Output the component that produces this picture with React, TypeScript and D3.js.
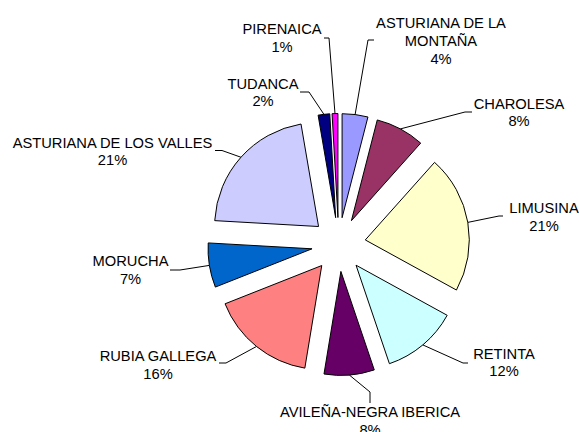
import React, { useEffect, useRef } from 'react'
import * as d3 from 'd3'

const breeds = [
  'ASTURIANA DE LA MONTAÑA',
  'CHAROLESA',
  'LIMUSINA',
  'RETINTA',
  'AVILEÑA-NEGRA IBERICA',
  'RUBIA GALLEGA',
  'MORUCHA',
  'ASTURIANA DE LOS VALLES',
  'TUDANCA',
  'PIRENAICA',
]
const shares = [4.0, 7.6, 21.4, 11.8, 7.8, 16.4, 6.9, 21.4, 1.8, 0.9]
const colours = ['#9999FF', '#993366', '#FFFFCC', '#CCFFFF', '#660066', '#FF8080', '#0066CC', '#CCCCFF', '#000080', '#FF00FF']

// where each label sits: centre x, first baseline, leader start and elbow
const labelPos = [
  { x: 441, y: 28.3, wrap: 16, from: [374, 40], elbow: [368, 40] },
  { x: 519, y: 108.5, from: [472, 112], elbow: [465, 112] },
  { x: 544, y: 213, from: [503, 216], elbow: [499, 216] },
  { x: 504, y: 358.5, from: [468, 363], elbow: [463, 363] },
  { x: 370, y: 417, from: [370, 403], elbow: [370, 392] },
  { x: 158, y: 361, from: [219, 363], elbow: [226, 363] },
  { x: 130.5, y: 266, from: [170, 270], elbow: [180, 270] },
  { x: 112.5, y: 147.5, from: [215, 150.5], elbow: [222, 150.5] },
  { x: 263, y: 88.5, from: [300, 92], elbow: [309, 92] },
  { x: 282, y: 34, from: [324, 38], elbow: [329, 38] },
]

const W = 579, H = 432
const cx = 338.7, cy = 244.5
const R = 104
const explode = 27
const lineH = 17.8

function wrapName(name: string, max?: number) {
  if (!max) return [name]
  const out: string[] = []
  let cur = ''
  name.split(' ').forEach(w => {
    const next = cur ? cur + ' ' + w : w
    if (next.length > max && cur) { out.push(cur); cur = w }
    else cur = next
  })
  if (cur) out.push(cur)
  return out
}

export default function App() {
  const ref = useRef<SVGSVGElement>(null)

  useEffect(() => {
    const svg = d3.select(ref.current)
    svg.selectAll('*').remove()

    const pie = d3.pie<number>().sort(null).value(d => d)
    const arcs = pie(shares)
    const arc = d3.arc<d3.PieArcDatum<number>>().innerRadius(0).outerRadius(R)
    const edge = d3.arc<d3.PieArcDatum<number>>().innerRadius(R + explode).outerRadius(R + explode)
    const total = d3.sum(shares)

    const g = svg.append('g').attr('transform', `translate(${cx},${cy})`)

    g.selectAll('path.slice')
      .data(arcs)
      .enter()
      .append('path')
      .attr('class', 'slice')
      .attr('d', arc)
      .attr('fill', (d, i) => colours[i])
      .attr('stroke', '#000')
      .attr('stroke-width', 1)
      .attr('stroke-linejoin', 'round')
      .attr('transform', d => {
        const mid = (d.startAngle + d.endAngle) / 2
        return `translate(${explode * Math.sin(mid)},${-explode * Math.cos(mid)})`
      })

    // leader lines
    const line = d3.line()
    svg.selectAll('path.leader')
      .data(arcs)
      .enter()
      .append('path')
      .attr('class', 'leader')
      .attr('d', (d, i) => {
        const [ex, ey] = edge.centroid(d)
        const p = labelPos[i]
        return line([p.from as [number, number], p.elbow as [number, number], [cx + ex, cy + ey]])
      })
      .attr('fill', 'none')
      .attr('stroke', '#000')
      .attr('stroke-width', 1)

    // labels
    const labels = svg.selectAll('text.lbl')
      .data(arcs)
      .enter()
      .append('text')
      .attr('class', 'lbl')
      .attr('text-anchor', 'middle')
      .attr('font-family', '"Liberation Sans", Arial, sans-serif')
      .attr('font-size', 14.7)
      .attr('fill', '#000')

    labels.each(function (d, i) {
      const p = labelPos[i]
      const rows = wrapName(breeds[i], p.wrap)
      rows.push(`${Math.round((d.value / total) * 100)}%`)
      d3.select(this).selectAll('tspan')
        .data(rows)
        .enter()
        .append('tspan')
        .attr('x', p.x)
        .attr('y', (r, j) => p.y + j * lineH)
        .text(r => r)
    })
  }, [])

  return (
    <svg
      ref={ref}
      width={W}
      height={H}
      style={{ position: 'absolute', left: 0, top: 0, background: '#fff' }}
    />
  )
}
